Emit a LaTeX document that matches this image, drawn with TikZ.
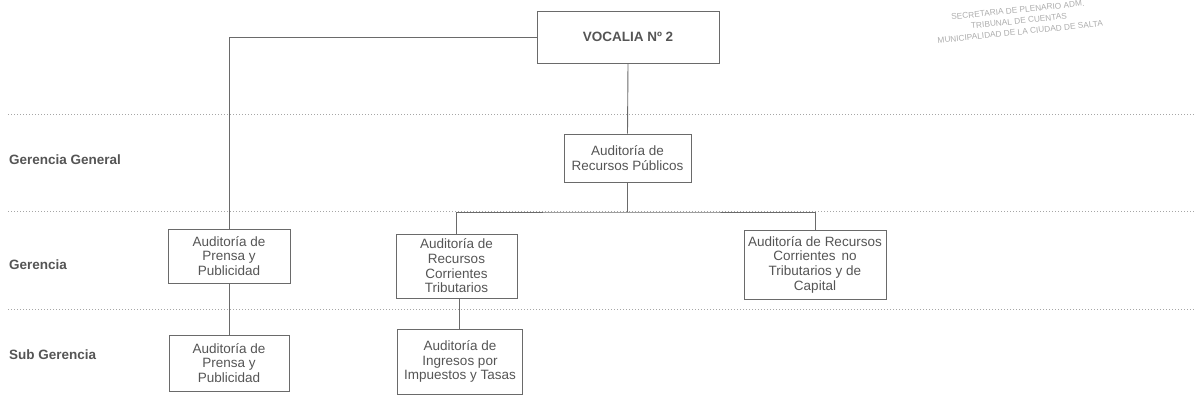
\documentclass[tikz,border=0pt]{standalone}
\usepackage{fontspec}
\setmainfont{Liberation Sans}
\usetikzlibrary{calc}

\definecolor{inkgray}{HTML}{555555}
\definecolor{linegray}{HTML}{6A6A6A}
\definecolor{stampgray}{HTML}{ADADAD}

\tikzset{
	unit/.style={draw=linegray, line width=0.9pt, text=inkgray, align=center, inner sep=2pt, font=\fontsize{13.5}{14.7}\selectfont},
	level/.style={anchor=west, text=inkgray, inner sep=0pt, font=\fontsize{13.5}{16}\selectfont\bfseries},
	link/.style={draw=linegray, line width=0.9pt},
	rowline/.style={draw=gray!70, line width=0.8pt, dash pattern=on 0.8pt off 2.2pt},
}

\begin{document}
\begin{tikzpicture}[x=1pt, y=-1pt]
			%%%%% START %%%%%
			\useasboundingbox (0, 0) rectangle (1195, 405);
			
			\draw[rowline] (8, 114) -- (1195, 114);
			\draw[rowline] (8, 211) -- (1195, 211);
			\draw[rowline] (8, 309) -- (1195, 309);
			
			\node[level] (lgg) at (9, 160) {Gerencia General};
			\node[level] (lg) at (9, 265) {Gerencia};
			\node[level] (lsg) at (9, 355) {Sub Gerencia};
			
			\node[unit, minimum width=182, minimum height=52, font=\fontsize{13.5}{14.7}\selectfont\bfseries] (vocalia) at (628, 37) {VOCALIA Nº 2};
			\node[unit, minimum width=127, minimum height=48] (recpub) at (627.5, 158) {Auditoría de\\Recursos Públicos};
			
			\node[unit, minimum width=122, minimum height=54] (prensa) at (229, 256) {Auditoría de\\Prensa y\\Publicidad};
			\node[unit, minimum width=121, minimum height=64] (tribut) at (456.5, 266) {Auditoría de\\Recursos\\Corrientes\\Tributarios};
			\node[unit, minimum width=142, minimum height=69] (notrib) at (815, 264.5) {Auditoría de Recursos\\Corrientes\, no\\Tributarios y de\\Capital};
			
			\node[unit, minimum width=120, minimum height=56] (prensasub) at (229, 363) {Auditoría de\\Prensa y\\Publicidad};
			\node[unit, minimum width=125, minimum height=65] (ingresos) at (460, 361.5) {Auditoría de\\Ingresos por\\Impuestos y Tasas};
			
			\coordinate (bus) at (627.5, 212);
			
			\draw[link] (vocalia.west) -| (prensa.north);
			\draw[link] (vocalia.south) -- (recpub.north);
			\draw[link] (recpub.south) -- (bus);
			\draw[link] (tribut.north) |- (bus) -| (notrib.north);
			\draw[link] (prensa.south) -- (prensasub.north);
			\draw[link] (ingresos.north -| tribut.south) ++(2.5, 0) coordinate (tap) -- (tribut.south -| tap);
			
			\node[text=stampgray, rotate=6, align=center, font=\fontsize{8.3}{11}\selectfont] (stamp) at (1019, 21) {SECRETARIA DE PLENARIO ADM.\\TRIBUNAL DE CUENTAS\\MUNICIPALIDAD DE LA CIUDAD DE SALTA};
			
			%%%%% END %%%%%
\end{tikzpicture}
\end{document}
